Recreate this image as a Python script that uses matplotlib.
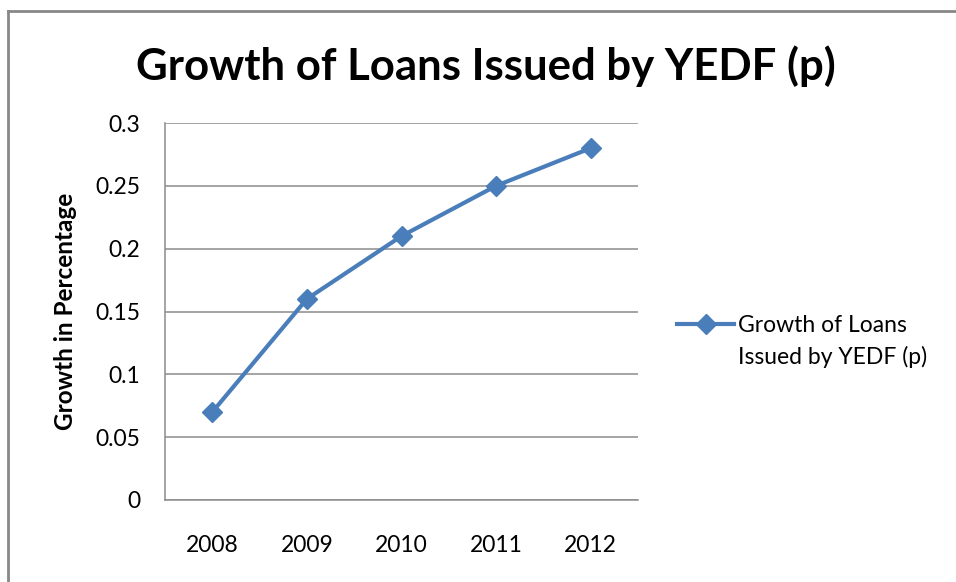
import matplotlib
matplotlib.use("agg")
import matplotlib.pyplot as plt
from matplotlib.lines import Line2D

years = ["2008", "2009", "2010", "2011", "2012"]
growth = [0.07, 0.16, 0.21, 0.25, 0.28]
y_ticks = [0, 0.05, 0.1, 0.15, 0.2, 0.25, 0.3]
y_tick_labels = ["0", "0.05", "0.1", "0.15", "0.2", "0.25", "0.3"]

TITLE = "Growth of Loans Issued by YEDF (p)"
SERIES_1 = "Growth of Loans"
SERIES_2 = "Issued by YEDF (p)"
BLUE = "#4a7ebb"
GRID = "#8c8c8c"

plt.rcParams["font.family"] = ["Lato", "DejaVu Sans"]

W, H = 956, 582
fig = plt.figure(figsize=(W / 100, H / 100), dpi=100)
fig.patch.set_facecolor("white")

# outer chart border (only top and left edges show in the reference)
fig.add_artist(Line2D([8 / W, 8 / W], [0, 1 - 11 / H], color="#888888",
                      lw=2, transform=fig.transFigure))
fig.add_artist(Line2D([8 / W, 1], [1 - 11 / H, 1 - 11 / H], color="#888888",
                      lw=2, transform=fig.transFigure))

left, right, top, bottom = 165, 638, 123, 500
ax = fig.add_axes([left / W, 1 - bottom / H, (right - left) / W, (bottom - top) / H])

x = list(range(len(years)))
line, = ax.plot(x, growth, color=BLUE, lw=3, marker="D", markersize=10.5,
                markerfacecolor=BLUE, markeredgecolor=BLUE, zorder=3)

ax.set_xlim(-0.5, len(years) - 0.5)
ax.set_ylim(0, 0.3)
ax.set_xticks(x)
ax.set_xticklabels(years)
ax.set_yticks(y_ticks)
ax.set_yticklabels(y_tick_labels)
ax.tick_params(length=0, labelsize=16.5, colors="#000000")
ax.tick_params(axis="x", pad=25)
ax.tick_params(axis="y", pad=18)

ax.yaxis.grid(True, color=GRID, lw=1.1)
ax.set_axisbelow(True)
for s in ("top", "right"):
    ax.spines[s].set_visible(False)
for s in ("left", "bottom"):
    ax.spines[s].set_color(GRID)
    ax.spines[s].set_linewidth(1.1)

ax.set_ylabel("Growth in Percentage", fontsize=17.5, fontweight="bold", labelpad=13)

fig.text(486 / W, 1 - 66 / H, TITLE, ha="center", va="center",
         fontsize=31.5, fontweight="bold")

fig.legend([line], [SERIES_1], loc="center left", bbox_to_anchor=(661 / W, 1 - 326 / H),
           frameon=False, fontsize=16.5, handlelength=2.5, handletextpad=0.15,
           borderpad=0.2)
fig.text(738 / W, 1 - 357 / H, SERIES_2, ha="left", va="center", fontsize=16.5)

fig.savefig("out.png", dpi=100, facecolor="white")
